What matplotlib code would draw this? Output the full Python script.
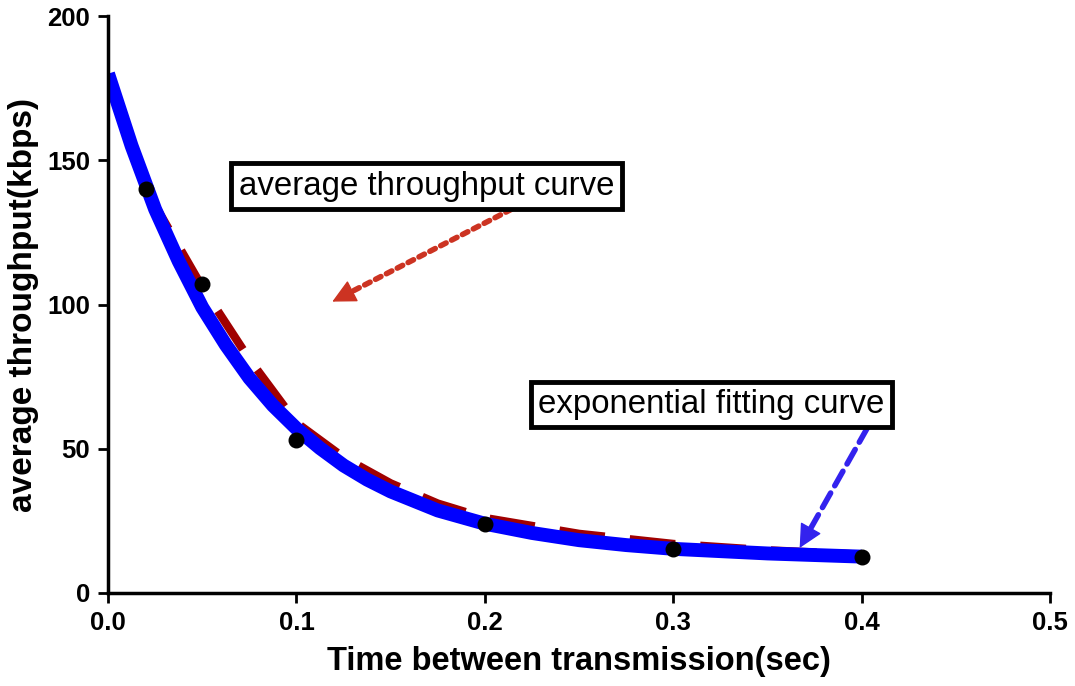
import numpy as np
import matplotlib.pyplot as plt

plt.rcParams['font.family'] = ['Liberation Sans', 'DejaVu Sans']

# measured points
time_s = [0.02, 0.05, 0.1, 0.2, 0.3, 0.4]
throughput = [140, 107, 53, 24, 15.3, 12.5]

# average throughput curve (red dashed)
avg_x = [0.02, 0.035, 0.05, 0.075, 0.1, 0.125, 0.15, 0.175, 0.2, 0.25, 0.3, 0.35, 0.4]
avg_y = [140, 123, 106, 81, 59, 47, 38, 31, 26, 20.5, 17, 14.8, 13.3]

# exponential fitting curve (blue)
fit_x = [0.0, 0.0125, 0.025, 0.0375, 0.05, 0.0625, 0.075, 0.0875, 0.1, 0.1125,
         0.125, 0.1375, 0.15, 0.175, 0.2, 0.225, 0.25, 0.275, 0.3, 0.35, 0.4]
fit_y = [180, 155, 133, 115, 99, 86, 74.5, 65, 57, 50.2, 44.2, 39.3, 35.2, 28.6,
         24, 20.8, 18.3, 16.6, 15.3, 13.7, 12.6]

fig = plt.figure(figsize=(10.75, 6.86), dpi=100)
ax = fig.add_axes([0.1005, 0.1356, 0.8765, 0.8410])

ax.plot(fit_x, fit_y, color='#0000FF', lw=10, solid_capstyle='butt', zorder=2)
ax.plot(avg_x, avg_y, color='#A00000', lw=6, ls=(0, (5.5, 3)), zorder=1)
ax.scatter(time_s, throughput, s=110, color='black', zorder=3)

ax.set_xlim(0, 0.5)
ax.set_ylim(0, 200)
ax.set_xticks([0.0, 0.1, 0.2, 0.3, 0.4, 0.5])
ax.set_yticks([0, 50, 100, 150, 200])
ax.set_xticklabels(['0.0', '0.1', '0.2', '0.3', '0.4', '0.5'])

for side in ['top', 'right']:
    ax.spines[side].set_visible(False)
for side in ['left', 'bottom']:
    ax.spines[side].set_linewidth(2.5)
ax.tick_params(direction='out', length=7, width=2, labelsize=18.5, pad=6)
for lab in ax.get_xticklabels() + ax.get_yticklabels():
    lab.set_fontweight('bold')

ax.set_xlabel('Time between transmission(sec)', fontsize=23.5, fontweight='bold', labelpad=8)
ax.set_ylabel('average throughput(kbps)', fontsize=24, fontweight='bold', labelpad=6)

box = dict(boxstyle='square,pad=0.22', fc='white', ec='black', lw=3.5)
ax.text(0.169, 141, 'average throughput curve', fontsize=23.8, ha='center', va='center',
        bbox=box, zorder=5)
ax.text(0.320, 65.3, 'exponential fitting curve', fontsize=23.8, ha='center', va='center',
        bbox=box, zorder=5)


def arrow(start, tip, color, dash):
    # shaft with dash pattern, head drawn solid on its own
    frac = 0.1
    base = (tip[0] + frac * (start[0] - tip[0]), tip[1] + frac * (start[1] - tip[1]))
    ax.annotate('', xy=base, xytext=start,
                arrowprops=dict(arrowstyle='-', color=color, lw=4, ls=dash,
                                shrinkA=0, shrinkB=0), zorder=4)
    ax.annotate('', xy=tip, xytext=base,
                arrowprops=dict(arrowstyle='-|>,head_length=1.5,head_width=0.75',
                                color=color, lw=1, shrinkA=0, shrinkB=0), zorder=4)


arrow((0.214, 133), (0.119, 101), '#CC3322', (0, (1.1, 1.1)))
arrow((0.403, 57.3), (0.367, 15.6), '#3322EE', (0, (3, 1.5)))

fig.savefig('out.png', dpi=100)
